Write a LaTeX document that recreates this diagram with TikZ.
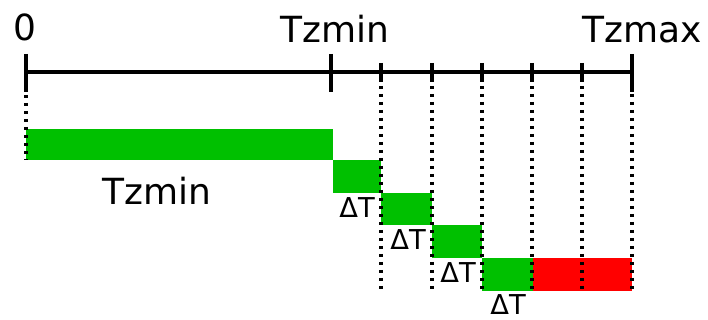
\documentclass[tikz,border=0pt]{standalone}
\usepackage{fontspec}
\setmainfont{DejaVu Sans}
\definecolor{barg}{RGB}{0,192,0}
\definecolor{barr}{RGB}{255,0,0}
\begin{document}
\begin{tikzpicture}[x=0.75pt,y=-0.75pt,
  axisline/.style={line width=2.6pt,black},
  dotline/.style={line width=3pt,black,dash pattern=on 2.4pt off 3.6pt},
  gbar/.style={fill=barg,draw=none},
  rbar/.style={fill=barr,draw=none},
  biglabel/.style={font=\fontsize{27}{30}\selectfont,anchor=base,inner sep=0pt},
  dtlabel/.style={font=\fontsize{20.5}{22}\selectfont,anchor=base,inner sep=0pt}]
\useasboundingbox (0,0) rectangle (708,320);
% bars
\fill[gbar] (26,129) rectangle (333,160);
\fill[gbar] (333,160) rectangle (381,193);
\fill[gbar] (381,193) rectangle (432,225);
\fill[gbar] (432,225) rectangle (482,258);
\fill[gbar] (482,258) rectangle (533,291);
\fill[rbar] (533,258) rectangle (632,291);
% dotted guides
\draw[dotline] (26,95) -- (26,160);
\foreach \x in {381,432,482,532,582,632}
  \draw[dotline] (\x,86) -- (\x,292);
% axis
\draw[axisline] (26,72) -- (632,72);
\foreach \x in {26,331,632}
  \draw[axisline] (\x,54) -- (\x,92);
\foreach \x in {381,432,482,532,582}
  \draw[axisline] (\x,63) -- (\x,82);
% labels
\node[biglabel] (l0) at (25,41) {0};
\node[biglabel] (lmin) at (335,43) {Tzmin};
\node[biglabel] (lmax) at (642,43) {Tzmax};
\node[biglabel] (lbar) at (157,205) {Tzmin};
\node[dtlabel] (d1) at (357,218) {ΔT};
\node[dtlabel] (d2) at (408,250) {ΔT};
\node[dtlabel] (d3) at (458,283) {ΔT};
\node[dtlabel] (d4) at (508,315) {ΔT};
\end{tikzpicture}
\end{document}
